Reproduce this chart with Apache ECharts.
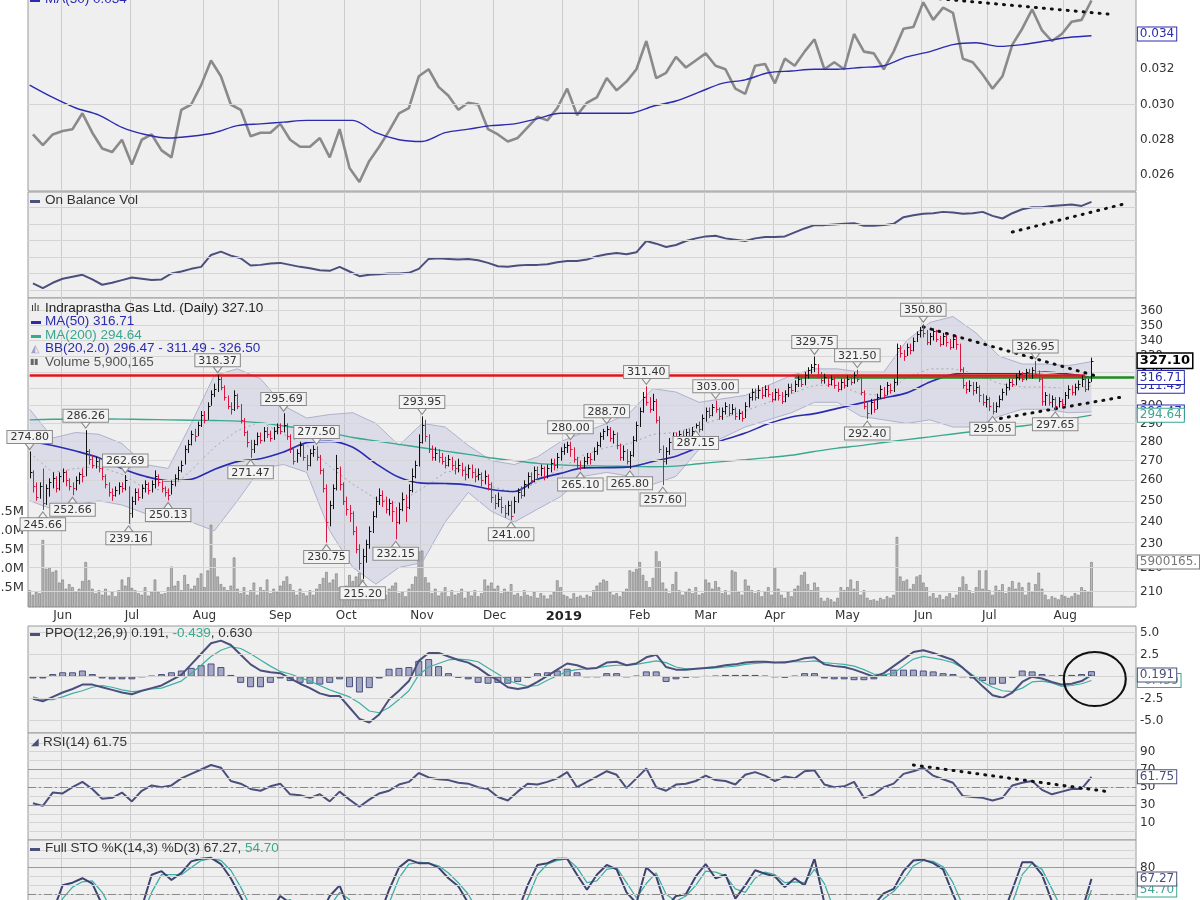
<!DOCTYPE html>
<html>
<head>
<meta charset="utf-8">
<title>Indraprastha Gas Ltd. (Daily)</title>
<script src="https://cdn.jsdelivr.net/npm/echarts@6.0.0/dist/echarts.min.js"></script>
<style>
  html, body { margin: 0; padding: 0; background: #fff; }
  #chart { width: 1200px; height: 900px; }
</style>
</head>
<body>
<div id="chart"></div>
<script>
// ---- daily price bars (trading day 0 = 18 May 2018) ----
var priceHigh = [
  274.8, 265, 259, 259, 266, 258, 261, 264, 262, 264,
  266, 265, 261, 259, 262, 264, 266, 286.26, 276, 273,
  272, 271, 267, 263, 259, 256, 257, 259, 259, 262.69,
  257, 252, 256, 256, 258, 260, 259, 260, 265, 263,
  260, 257, 256, 260, 263, 267, 270, 278, 281, 286,
  287, 291, 297, 297, 302, 309, 313, 318.37, 317, 312,
  306, 302, 309, 307, 301, 293, 286, 281, 281, 285,
  285, 288, 288, 286, 288, 290, 290, 295.69, 290, 284,
  277, 276, 280, 279, 273, 276, 278, 277.5, 273, 266,
  258, 250, 258, 273, 267, 259, 252, 248, 245, 238,
  230, 228, 232, 238, 245, 252, 256, 255, 252, 251,
  250, 247, 249, 254, 253, 258, 266, 270, 284, 293.95,
  292, 284, 278, 277, 276, 274, 272, 273, 272, 270,
  271, 269, 267, 268, 268, 266, 266, 264, 265, 263,
  259, 253, 254, 252, 248, 250, 250, 252, 256, 257,
  260, 264, 264, 267, 267, 268, 267, 268, 271, 271,
  274, 277, 279, 280, 280, 277, 272, 270, 272, 274,
  274, 277, 280, 285, 287, 288.7, 288, 286, 285, 279,
  278, 276, 275, 283, 291, 299, 308, 311.4, 305, 307,
  304, 294, 278, 277, 282, 285, 285, 286, 286, 287,
  287, 288, 290, 291, 295, 299, 299, 301, 303, 299,
  299, 302, 301, 301, 299, 298, 297, 302, 307, 310,
  310, 312, 311, 312, 312, 308, 310, 310, 308, 309,
  313, 313, 315, 318, 318, 320, 323, 325, 329.75, 325,
  320, 319, 318, 318, 317, 314, 316, 316, 318, 318,
  320, 321.5, 317, 309, 302, 304, 304, 307, 312, 311,
  314, 313, 316, 338, 337, 334, 338, 338, 342, 346,
  349, 350.8, 347, 345, 348, 347, 343, 345, 344, 341,
  343, 343, 338, 323, 314, 315, 314, 314, 312, 307,
  306, 305, 302, 302, 306, 310, 313, 316, 316, 319,
  321, 320, 322, 322, 323, 326.95, 321, 317, 308, 307,
  306, 305, 305, 304, 308, 312, 312, 313, 315, 318,
  317, 316, 329
];
var priceLow = [
  261, 254, 250, 251, 245.66, 248, 252, 256, 254, 255,
  259, 257, 255, 252.66, 255, 258, 259, 262, 268, 266,
  266, 264, 260, 256, 252, 250, 252, 253, 254, 255,
  239.16, 242, 248, 250, 251, 254, 253, 254, 256, 257,
  254, 252, 250.13, 253, 257, 260, 264, 268, 274, 278,
  280, 283, 288, 290, 292, 300, 305, 308, 309, 303,
  298, 295, 297, 298, 290, 283, 277, 271.47, 274, 278,
  279, 280, 282, 280, 281, 284, 284, 285, 281, 274,
  268, 269, 272, 270, 265, 267, 272, 270, 263, 254,
  230.75, 238, 246, 255, 255, 248, 243, 240, 234, 226,
  219, 215.2, 222, 228, 235, 242, 248, 247, 244, 243,
  240, 232.15, 239, 245, 240, 246, 254, 261, 267, 279,
  280, 274, 270, 270, 269, 268, 266, 267, 265, 263,
  264, 262, 260, 261, 261, 259, 260, 257, 258, 255,
  249, 246, 247, 244, 242, 243, 241, 244, 249, 251,
  252, 256, 258, 259, 260, 262, 260, 261, 264, 265,
  266, 270, 273, 274, 272, 269, 266, 265.1, 266, 268,
  268, 270, 273, 277, 281, 283, 280, 279, 276, 270,
  270, 268, 265.8, 272, 280, 288, 296, 300, 296, 297,
  290, 274, 257.6, 268, 273, 278, 278, 279, 280, 281,
  281, 282, 287.15, 285, 286, 291, 293, 294, 296, 292,
  292, 295, 294, 295, 292, 292, 291, 293, 299, 303,
  303, 304, 304, 305, 305, 302, 303, 303, 301, 302,
  305, 307, 308, 311, 311, 312, 316, 319, 320, 316,
  313, 313, 311, 312, 310, 308, 309, 310, 311, 312,
  313, 314, 306, 298, 292.4, 295, 296, 298, 304, 304,
  306, 307, 308, 312, 329, 327, 330, 331, 333, 339,
  342, 342, 337, 337, 340, 339, 336, 337, 336, 334,
  335, 334, 320, 310, 307, 308, 306, 307, 302, 300,
  299, 297, 295.05, 296, 299, 303, 306, 309, 311, 312,
  315, 314, 315, 316, 316, 317, 314, 300, 300, 300,
  299, 297.65, 299, 299, 300, 304, 306, 306, 309, 311,
  308, 309, 314
];
var priceClose = [
  264, 257, 252, 257, 249, 256, 259, 261, 256, 262,
  264, 260, 257, 256, 260, 263, 262, 275, 271, 268,
  270, 266, 262, 258, 254, 253, 255, 257, 256, 260,
  244, 250, 254, 252, 256, 258, 255, 258, 262, 259,
  256, 254, 253, 258, 261, 265, 268, 276, 279, 284,
  283, 289, 295, 292, 300, 307, 310, 316, 311, 305,
  300, 298, 306, 300, 292, 285, 280, 276, 279, 283,
  281, 286, 284, 282, 286, 288, 286, 289, 283, 276,
  270, 274, 278, 272, 268, 274, 276, 272, 265, 256,
  240, 248, 256, 266, 258, 250, 246, 244, 236, 228,
  222, 225, 230, 236, 243, 250, 253, 250, 246, 249,
  245, 240, 246, 251, 247, 255, 262, 268, 280, 289,
  283, 276, 272, 274, 272, 270, 268, 271, 268, 266,
  268, 265, 263, 266, 264, 262, 263, 260, 262, 258,
  252, 249, 251, 247, 244, 248, 243, 250, 254, 253,
  258, 262, 260, 265, 263, 266, 262, 266, 269, 268,
  272, 275, 277, 278, 276, 271, 268, 266, 270, 272,
  271, 275, 278, 283, 286, 287, 282, 284, 278, 272,
  275, 270, 273, 281, 289, 297, 305, 302, 298, 303,
  292, 276, 270, 275, 280, 283, 280, 284, 282, 285,
  283, 286, 289, 287, 293, 297, 295, 299, 298, 294,
  297, 300, 296, 298, 294, 296, 293, 300, 305, 308,
  305, 309, 306, 310, 307, 304, 308, 306, 303, 307,
  311, 309, 313, 316, 313, 318, 321, 323, 325, 318,
  315, 317, 313, 316, 312, 310, 314, 312, 316, 314,
  318, 316, 308, 300, 296, 302, 298, 305, 310, 306,
  312, 309, 314, 335, 332, 330, 336, 334, 340, 344,
  347, 345, 339, 343, 346, 341, 338, 343, 339, 336,
  341, 338, 322, 312, 310, 312, 309, 311, 306, 302,
  304, 300, 297, 300, 304, 308, 311, 314, 313, 317,
  319, 316, 320, 318, 321, 319, 316, 303, 306, 302,
  304, 300, 303, 301, 306, 310, 308, 311, 313, 316,
  310, 314, 327.1
];
// daily volume, millions of shares
var volume = [
  2.2, 1.6, 2.0, 1.8, 8.8, 5.0, 5.2, 4.6, 4.8, 3.2,
  3.6, 2.4, 3.0, 2.6, 2.0, 2.4, 3.4, 5.9, 3.5, 2.4,
  1.8, 2.2, 1.6, 2.4, 1.5, 2.0, 1.4, 2.2, 3.6, 2.8,
  3.9, 2.5, 2.2, 1.8, 1.6, 2.6, 1.5, 2.0, 3.6, 2.0,
  1.7, 1.8, 2.6, 5.3, 2.8, 3.4, 2.2, 4.2, 3.0, 2.4,
  2.8, 3.8, 4.4, 2.6, 4.8, 10.8, 6.4, 4.0, 3.0, 2.6,
  2.2, 2.8, 6.5, 2.4, 1.8, 2.6, 1.6, 2.2, 3.2, 1.6,
  2.6, 2.2, 3.6, 1.8, 2.4, 2.0, 2.8, 3.4, 4.0, 3.0,
  2.2, 1.6, 2.4, 1.8, 1.5, 2.2, 1.6, 2.4, 3.0, 3.8,
  4.6, 3.2, 3.6, 4.4, 2.6, 2.2, 2.8, 4.2, 3.4, 4.0,
  4.5, 3.6, 2.4, 1.8, 2.2, 1.4, 2.0, 1.2, 1.6, 2.4,
  2.8, 3.2, 1.8, 2.0, 1.4, 2.4, 3.0, 4.0, 7.3, 7.4,
  3.9, 3.2, 1.8, 2.4, 1.5, 1.9, 2.6, 1.4, 2.2, 1.6,
  1.8, 2.4, 1.2, 2.0, 1.5, 2.2, 1.4, 1.8, 3.6, 2.8,
  3.2, 2.4, 2.8, 1.8, 2.4, 2.0, 3.0, 1.6, 1.8, 1.4,
  2.2, 1.6, 1.4, 2.0, 1.2, 1.8, 1.5, 1.1, 1.6, 2.0,
  3.5, 2.6, 1.6, 1.4, 1.1, 1.8, 1.3, 1.5, 1.2, 1.6,
  1.4, 2.2, 2.8, 3.2, 3.6, 3.4, 2.0, 1.6, 1.8, 1.4,
  2.0, 2.4, 4.8, 4.6, 5.0, 5.9, 4.2, 3.4, 2.6, 3.8,
  7.3, 6.0, 3.2, 2.4, 1.8, 3.0, 4.6, 2.2, 1.6, 2.0,
  2.4, 1.8, 2.6, 1.6, 1.8, 3.6, 3.2, 2.4, 3.4, 2.6,
  1.8, 2.2, 1.6, 4.8, 4.6, 2.0, 1.6, 3.6, 2.8, 2.2,
  1.8, 2.2, 1.4, 2.0, 2.6, 1.6, 5.2, 2.4, 1.6, 1.2,
  2.0, 1.4, 2.4, 2.8, 4.2, 4.6, 3.0, 2.2, 3.2, 2.6,
  1.2, 0.8, 1.2, 1.0, 0.7, 1.2, 2.6, 2.2, 2.6, 3.6,
  2.4, 3.4, 1.6, 2.2, 1.2, 0.9, 1.0, 0.8, 1.2, 1.0,
  1.4, 1.2, 1.6, 9.2, 4.0, 3.4, 3.6, 2.4, 3.0, 4.0,
  4.2, 3.2, 2.6, 1.4, 1.8, 1.2, 1.6, 1.0, 1.4, 1.8,
  1.2, 1.6, 2.6, 4.0, 3.0, 2.2, 1.8, 2.6, 4.8, 2.4,
  4.8, 2.2, 1.6, 2.8, 2.2, 3.0, 1.8, 2.6, 3.4, 2.4,
  3.2, 2.6, 1.6, 3.2, 2.0, 3.0, 4.5, 2.4, 1.6, 1.0,
  1.4, 1.2, 1.0, 1.6, 1.4, 1.2, 1.4, 1.8, 1.6, 2.6,
  2.2, 2.0, 5.900165
];

// ---- indicators read every 3rd trading day, starting at day 1 ----
var ratio = [
  0.0283, 0.0277, 0.0283, 0.0285, 0.0286, 0.0295, 0.0284, 0.0275, 0.0273, 0.0280,
  0.0266, 0.0280, 0.0283, 0.0274, 0.0270, 0.0297, 0.0300, 0.0311, 0.0325, 0.0316,
  0.0300, 0.0297, 0.0282, 0.0284, 0.0284, 0.0289, 0.0280, 0.0276, 0.0276, 0.0281,
  0.0270, 0.0286, 0.0264, 0.0256, 0.0268, 0.0276, 0.0285, 0.0295, 0.0298, 0.0316,
  0.0320, 0.0310, 0.0305, 0.0297, 0.0301, 0.0300, 0.0286, 0.0283, 0.0279, 0.0281,
  0.0287, 0.0293, 0.0291, 0.0298, 0.0309, 0.0294, 0.0301, 0.0304, 0.0315, 0.0308,
  0.0313, 0.0320, 0.0336, 0.0315, 0.0318, 0.0327, 0.0321, 0.0325, 0.0329, 0.0322,
  0.0320, 0.0309, 0.0306, 0.0322, 0.0323, 0.0312, 0.0326, 0.0322, 0.0330, 0.0337,
  0.0320, 0.0324, 0.0320, 0.0340, 0.0330, 0.0329, 0.0320, 0.0330, 0.0343, 0.0344,
  0.0358, 0.0348, 0.0355, 0.0352, 0.0326, 0.0324, 0.0317, 0.0309, 0.0316, 0.0334,
  0.0343, 0.0354, 0.0342, 0.0336, 0.0340, 0.0347, 0.0348, 0.0359
];
var obv = [
  2, -5, 3, 9, 12, 15, 8, 0, 3, 7,
  11, 9, 7, 8, 17, 20, 24, 27, 45, 50,
  44, 40, 29, 30, 32, 33, 30, 27, 25, 22,
  21, 27, 20, 13, 15, 16, 17, 17, 18, 24,
  39, 40, 39, 38, 39, 37, 33, 28, 27, 29,
  30, 30, 31, 34, 36, 36, 38, 43, 46, 48,
  46, 49, 66, 62, 57, 60, 66, 70, 73, 74,
  70, 68, 66, 70, 72, 72, 73, 79, 85, 90,
  90, 91, 92, 93, 89, 89, 90, 92, 102, 105,
  107, 108, 110, 109, 107, 108, 110, 104, 100, 108,
  114, 117, 117, 119, 120, 121, 119, 125
];
var ppo = [
  -2.5, -2.8, -2.3, -1.8, -1.4, -0.9, -0.9, -1.2, -1.5, -1.8,
  -2.0, -1.6, -1.3, -1.0, -0.4, 0.2, 1.4, 2.6, 3.8, 4.1,
  3.6, 2.5, 1.4, 0.7, 0.5, 0.4, -0.2, -0.8, -1.3, -1.9,
  -2.2, -2.2, -3.5, -4.8, -5.2, -4.3, -2.6, -1.6, -0.5, 1.8,
  2.7, 2.7, 2.3, 1.9, 1.6, 1.0, 0.2, -0.4, -1.2, -1.4,
  -1.2, -0.6, 0.1, 0.8, 1.5, 1.3, 0.9, 1.0, 1.6, 1.7,
  1.3, 1.5, 2.2, 2.5, 1.1, 0.8, 0.8, 0.9, 1.0, 1.1,
  1.3, 1.4, 1.6, 1.7, 1.7, 1.6, 1.6, 1.8, 2.1, 2.2,
  1.4, 1.2, 1.1, 0.8, 0.4, 0.0, 0.4, 1.2, 2.0, 2.8,
  3.0, 2.7, 2.3, 1.9, 1.0, 0.0, -1.1, -2.1, -2.4, -1.8,
  -0.6, 0.0, -0.2, -0.6, -0.9, -0.8, -0.5, 0.191
];
var ppoSignal = [
  -2.3, -2.6, -2.6, -2.3, -1.9, -1.6, -1.2, -1.0, -1.2, -1.5,
  -1.7, -1.6, -1.4, -1.3, -0.9, -0.5, 0.4, 1.3, 2.3, 3.0,
  3.4, 3.2, 2.6, 1.9, 1.2, 0.6, 0.3, -0.1, -0.5, -1.0,
  -1.5, -1.9, -2.3, -3.0, -3.9, -4.1, -3.5, -2.6, -1.6, 0.2,
  1.1, 1.5, 1.9, 2.0, 1.9, 1.7, 1.0, 0.3, -0.4, -0.8,
  -1.1, -1.0, -0.4, 0.1, 0.6, 0.8, 0.9, 1.0, 1.2, 1.3,
  1.3, 1.4, 1.6, 1.8, 1.6, 1.1, 0.9, 0.9, 0.95, 1.0,
  1.1, 1.2, 1.4, 1.5, 1.6, 1.6, 1.7, 1.7, 1.7, 1.8,
  1.6, 1.5, 1.4, 1.2, 0.8, 0.3, 0.2, 0.4, 1.2, 2.0,
  2.3, 2.1, 1.9, 1.6, 1.0, 0.2, -0.6, -1.2, -1.6, -1.7,
  -1.3, -0.6, -0.5, -0.7, -1.1, -1.0, -0.8, -0.439
];
var ppoHist = [
  -0.2, -0.2, 0.3, 0.5, 0.5, 0.7, 0.3, -0.2, -0.3, -0.3,
  -0.3, 0.0, 0.1, 0.3, 0.5, 0.7, 1.0, 1.3, 1.5, 1.1,
  0.2, -0.7, -1.2, -1.2, -0.7, -0.2, -0.5, -0.7, -0.8, -0.9,
  -0.7, -0.3, -1.2, -1.8, -1.3, -0.2, 0.9, 1.0, 1.1, 1.8,
  2.0, 1.2, 0.4, -0.1, -0.3, -0.7, -0.8, -0.7, -0.8, -0.6,
  -0.1, 0.4, 0.5, 0.7, 0.9, 0.5, 0.0, 0.0, 0.4, 0.4,
  0.0, 0.1, 0.6, 0.6, -0.6, -0.3, -0.1, 0.0, 0.05, 0.1,
  0.2, 0.2, 0.2, 0.2, 0.1, 0.0, -0.1, 0.1, 0.4, 0.4,
  -0.2, -0.3, -0.3, -0.4, -0.4, -0.3, 0.2, 0.8, 0.8, 0.8,
  0.7, 0.6, 0.4, 0.3, 0.0, -0.2, -0.5, -0.9, -0.8, -0.1,
  0.7, 0.6, 0.3, 0.1, 0.2, 0.2, 0.3, 0.63
];
var rsi = [
  32, 29, 44, 43, 50, 56, 48, 37, 38, 44,
  34, 46, 52, 50, 52, 60, 65, 70, 75, 72,
  57, 54, 48, 46, 51, 54, 42, 41, 38, 42,
  34, 45, 36, 28, 36, 43, 46, 53, 56, 66,
  61, 59, 58, 55, 54, 50, 48, 39, 35, 45,
  54, 53, 56, 60, 67, 50, 56, 62, 68, 64,
  49, 60, 71, 50, 46, 53, 54, 57, 63, 58,
  57, 53, 64, 67, 63, 57, 62, 60, 68, 69,
  53, 50, 51, 56, 38, 42, 50, 54, 65, 68,
  72, 63, 59, 55, 40, 39, 38, 35, 38, 52,
  55, 57, 47, 42, 45, 48, 48, 61.75
];
var stoK = [
  20, 15, 30, 60, 63, 68, 62, 38, 22, 18,
  15, 35, 72, 76, 66, 74, 87, 90, 91, 84,
  68, 47, 25, 18, 30, 48, 40, 22, 15, 25,
  48, 60, 30, 12, 8, 25, 55, 80, 89, 85,
  85, 80, 68, 59, 40, 22, 15, 12, 18, 30,
  60, 83, 85, 90, 90, 72, 55, 72, 83, 78,
  52, 40, 80, 70, 35, 48, 50, 70, 84, 68,
  72, 45, 60, 77, 73, 70, 58, 68, 60, 90,
  40, 22, 15, 18, 25, 38, 51, 56, 76, 88,
  89, 85, 78, 50, 25, 15, 10, 12, 25, 55,
  86, 86, 72, 42, 25, 20, 30, 67.27
];
var stoD = [
  22, 18, 22, 45, 58, 64, 65, 52, 32, 22,
  17, 25, 52, 72, 72, 72, 80, 88, 90, 88,
  77, 58, 36, 22, 25, 40, 44, 32, 20, 20,
  36, 52, 44, 22, 11, 15, 40, 68, 84, 86,
  85, 82, 74, 63, 50, 30, 19, 14, 15, 24,
  45, 72, 84, 88, 90, 80, 63, 65, 78, 80,
  63, 46, 62, 74, 50, 42, 48, 60, 76, 75,
  71, 56, 52, 68, 75, 72, 63, 64, 63, 78,
  62, 32, 19, 16, 21, 31, 45, 53, 66, 82,
  88, 87, 81, 63, 37, 20, 12, 11, 18, 40,
  72, 85, 78, 56, 33, 22, 25, 54.7
];

// ---- smooth lines read every 7th trading day, starting at day 0 ----
var ratioMA = [
  0.0311, 0.0304, 0.0298, 0.0294, 0.0287, 0.0283, 0.0281, 0.0282, 0.0284, 0.0288,
  0.0289, 0.0290, 0.0291, 0.0291, 0.0291, 0.0284, 0.0280, 0.0279, 0.0284, 0.0286,
  0.0288, 0.0289, 0.0292, 0.0295, 0.0295, 0.0295, 0.0295, 0.0299, 0.0302, 0.0307,
  0.0312, 0.0314, 0.0318, 0.0319, 0.0320, 0.0320, 0.0321, 0.0322, 0.0327, 0.0330,
  0.0334, 0.0335, 0.0333, 0.0334, 0.0336, 0.0338, 0.0339
];
var ma50 = [
  280, 278, 275, 271.5, 266, 262, 259.8, 260.5, 265.5, 269.5,
  271, 274.5, 279.5, 280.2, 277, 268.5, 261.5, 258.6, 258.4, 257.7,
  255.5, 254.5, 260.5, 263.5, 266.3, 266.4, 266.8, 269.6, 272.3, 277,
  280.7, 284.7, 289.8, 293.6, 295.5, 298.5, 301.5, 304.5, 307.5, 314,
  318.6, 319.4, 319.4, 319.3, 320, 318.8, 316.71
];
var ma200 = [
  292, 292.3, 292.5, 292.5, 292.4, 292.2, 292, 291.8, 291.6, 291.3,
  290.3, 288.6, 286.8, 284.8, 282.3, 280.4, 278.6, 276.8, 275, 273.3,
  271.4, 270, 268.6, 267.8, 267.4, 267.2, 267, 266.9, 267.2, 268.4,
  269.5, 270.5, 271.6, 272.8, 274.8, 276.6, 277.9, 279.6, 281.1, 282.6,
  284.2, 285.7, 287.2, 288.6, 290.3, 292.4, 294.64
];
var bbUpper = [
  298, 282, 285, 284, 279, 268, 266, 290, 318, 322,
  316, 300, 293, 295, 296, 290, 278, 290, 288, 278,
  270, 268, 272, 280, 285, 290, 296, 310, 308, 302,
  304, 306, 312, 318, 322, 322, 320, 320, 340, 352,
  356, 345, 330, 325, 325, 324, 326.5
];
var bbMiddle = [
  274, 264, 266, 267, 263, 256, 255, 265, 277, 286,
  291, 284, 278, 267, 258, 251, 249, 256, 264, 266,
  257, 254, 259, 266, 273, 277, 279, 284, 285, 289,
  293, 297, 302, 307, 312, 312, 307, 306, 317, 322,
  322, 319, 313, 311, 311, 310, 311.49
];
var bbLower = [
  250, 246, 248, 250, 248, 244, 245, 240, 236, 250,
  266, 268, 264, 236, 220, 213, 220, 222, 240, 254,
  245, 240, 246, 252, 262, 264, 262, 258, 262, 276,
  282, 288, 292, 296, 302, 302, 294, 292, 290, 292,
  288, 288, 294, 298, 298, 296, 296.47
];

// labelled highs and lows: [trading day, price, +1 above / -1 below]
var peaks = [
  [0, 274.80, 1], [17, 286.26, 1], [29, 262.69, 1], [13, 252.66, -1], [4, 245.66, -1],
  [30, 239.16, -1], [42, 250.13, -1], [57, 318.37, 1], [77, 295.69, 1], [87, 277.50, 1],
  [67, 271.47, -1], [90, 230.75, -1], [101, 215.20, -1], [111, 232.15, -1], [119, 293.95, 1],
  [146, 241.00, -1], [164, 280.00, 1], [167, 265.10, -1], [175, 288.70, 1], [182, 265.80, -1],
  [187, 311.40, 1], [192, 257.60, -1], [208, 303.00, 1], [202, 287.15, -1], [238, 329.75, 1],
  [251, 321.50, 1], [254, 292.40, -1], [271, 350.80, 1], [292, 295.05, -1], [311, 297.65, -1],
  [305, 326.95, 1]
];

var ratioTicks = [0.026, 0.028, 0.030, 0.032, 0.034];
var obvTicks = [-8, 17, 42, 67, 92, 117];
var priceTicks = [210, 220, 230, 240, 250, 260, 270, 280, 290, 300, 310, 320, 330, 340, 350, 360];
var volumeTicks = [2.5, 5, 7.5, 10, 12.5];
var ppoTicks = [-5, -2.5, 0, 2.5, 5];
var tenTicks = [0, 10, 20, 30, 40, 50, 60, 70, 80, 90, 100];
var rsiLabels = [10, 30, 50, 70, 90];
var stoLabels = [20, 50, 80];
var monthNames = ['Jan', 'Feb', 'Mar', 'Apr', 'May', 'Jun', 'Jul', 'Aug', 'Sep', 'Oct', 'Nov', 'Dec'];

// trading-day axis: weekdays from 18 May 2018, with room after the last bar
var dates = [];
for (var t = Date.UTC(2018, 4, 18); dates.length < 336; t += 86400000) {
    var wd = new Date(t).getUTCDay();
    if (wd !== 0 && wd !== 6) {
        dates.push(new Date(t).toISOString().slice(0, 10));
    }
}
var monthStart = dates.map(function (d, i) {
    return i > 0 && d.slice(5, 7) !== dates[i - 1].slice(5, 7);
});
var lastSlot = dates.length - 1;

var axisFont = '"DejaVu Sans", Verdana, sans-serif';
var legendFont = '"Liberation Sans", Arial, sans-serif';
var navy = '#2b2bb0', teal = '#3aa88e', slate = '#4a4f7c';
var dotStyle = { color: '#111', width: 3, type: [1, 7], cap: 'round' };

function sampled(values, step, offset) {
    return values.map(function (v, k) { return [offset + k * step, v]; });
}

function line(xi, yi, data, color, width, extra) {
    var s = {
        type: 'line', xAxisIndex: xi, yAxisIndex: yi, data: data, symbol: 'none',
        silent: true, lineStyle: { color: color, width: width }, z: 4
    };
    for (var k in extra) { s[k] = extra[k]; }
    return s;
}

function segment(a, b, style) {
    return [{ coord: a, lineStyle: style }, { coord: b }];
}

function levels(values, color, type) {
    return values.map(function (v) {
        return { yAxis: v, lineStyle: { color: color, type: type, width: 1 } };
    });
}

// horizontal grid lines of a panel, drawn under everything else
function gridLines(xi, yi, values) {
    return {
        type: 'line', xAxisIndex: xi, yAxisIndex: yi, data: [], z: 1,
        markLine: {
            silent: true, symbol: ['none', 'none'], label: { show: false },
            lineStyle: { color: '#d4d4d4', width: 1, type: 'solid' },
            data: values.map(function (v) { return { yAxis: v }; })
        }
    };
}

// boxed value tags on the right axis: [value, text, colour, bold]
function tags(xi, yi, list) {
    return {
        type: 'line', xAxisIndex: xi, yAxisIndex: yi, data: [], z: 20,
        markPoint: {
            silent: true, symbol: 'rect', symbolSize: 1,
            itemStyle: { color: 'rgba(0,0,0,0)' },
            data: list.map(function (tg) {
                return {
                    coord: [lastSlot, tg[0]], name: tg[1],
                    label: {
                        show: true, position: 'right', distance: 3, formatter: '{b}',
                        color: tg[3] ? '#000' : tg[2], backgroundColor: '#fff',
                        borderColor: tg[2], borderWidth: tg[3] ? 1.5 : 1,
                        padding: [1, 2, 0, 2], fontFamily: axisFont,
                        fontSize: tg[3] ? 13 : 12, fontWeight: tg[3] ? 'bold' : 'normal'
                    }
                };
            })
        }
    };
}

function valueAxis(gi, min, max, labels, fmt) {
    return {
        type: 'value', gridIndex: gi, position: 'right', min: min, max: max,
        axisLine: { show: false },
        axisTick: { show: false },
        splitLine: { show: false },
        axisLabel: {
            show: labels.length > 0, customValues: labels, formatter: fmt,
            color: '#333', fontSize: 12, fontFamily: axisFont, margin: 4
        }
    };
}

var panels = [
    { top: -12, height: 203 },
    { top: 192, height: 106 },
    { top: 298, height: 309 },
    { top: 626, height: 107 },
    { top: 733, height: 107 },
    { top: 840, height: 107 }
];

var chart = echarts.init(document.getElementById('chart'));

var option = {
    animation: false,
    backgroundColor: '#ffffff',
    grid: panels.map(function (p) {
        return {
            left: 28, width: 1108, top: p.top, height: p.height, show: true,
            backgroundColor: '#efefef', borderColor: '#9a9a9a', borderWidth: 1,
            containLabel: false, outerBoundsMode: 'none'
        };
    }),
    xAxis: panels.map(function (p, i) {
        return {
            type: 'category', gridIndex: i, data: dates, boundaryGap: true,
            axisLine: { show: false }, axisTick: { show: false },
            splitLine: {
                show: true, interval: function (idx) { return monthStart[idx]; },
                lineStyle: { color: '#cdcdcd' }
            },
            axisLabel: i !== 2 ? { show: false } : {
                show: true, margin: 3, color: '#333', fontSize: 12, fontFamily: axisFont,
                interval: function (idx) { return monthStart[idx]; },
                formatter: function (value) {
                    var m = +value.slice(5, 7);
                    return m === 1 ? '{y|' + value.slice(0, 4) + '}' : monthNames[m - 1];
                },
                rich: { y: { fontWeight: 'bold', fontSize: 13, color: '#222', fontFamily: axisFont } }
            }
        };
    }),
    yAxis: [
        valueAxis(0, 0.025092, 0.03661, ratioTicks, function (v) { return v.toFixed(3); }),
        valueAxis(1, -20, 140, [], null),
        {
            type: 'log', logBase: 10, gridIndex: 2, position: 'right', min: 203.9, max: 368.9,
            axisLine: { show: false }, axisTick: { show: false },
            axisLabel: { show: false }, splitLine: { show: false }
        },
        {
            type: 'value', gridIndex: 2, position: 'left', min: 0, max: 40.55,
            axisLine: { show: false }, axisTick: { show: false },
            splitLine: { show: false },
            axisLabel: {
                customValues: volumeTicks, margin: 4, color: '#333', fontSize: 13, fontFamily: axisFont,
                formatter: function (v) { return v.toFixed(1) + 'M'; }
            }
        },
        valueAxis(3, -6.4, 5.76, ppoTicks, function (v) { return v.toFixed(1); }),
        valueAxis(4, -9.5, 111.1, rsiLabels, null),
        valueAxis(5, -9.5, 111.1, stoLabels, null)
    ],
    graphic: [
        { t: '▬', x: 30, y: -1, c: navy, s: 10 },
        { t: 'MA(50) 0.034', x: 45, y: -1, c: navy },
        { t: '▬', x: 30, y: 200, c: slate, s: 10 },
        { t: 'On Balance Vol', x: 45, y: 200, c: '#333' },
        { t: 'ılı', x: 31, y: 308, c: '#333', s: 11 },
        { t: 'Indraprastha Gas Ltd. (Daily) 327.10', x: 45, y: 308, c: '#222' },
        { t: '▬', x: 31, y: 321.5, c: navy, s: 10 },
        { t: 'MA(50) 316.71', x: 45, y: 321.5, c: navy },
        { t: '▬', x: 31, y: 335, c: teal, s: 10 },
        { t: 'MA(200) 294.64', x: 45, y: 335, c: teal },
        { t: '◭', x: 31, y: 348.5, c: '#9ea3cc', s: 11 },
        { t: 'BB(20,2.0) 296.47 - 311.49 - 326.50', x: 45, y: 348.5, c: navy },
        { t: '▮▮', x: 30, y: 362, c: '#666', s: 8 },
        { t: 'Volume 5,900,165', x: 45, y: 362, c: '#555' },
        { t: '▬', x: 30, y: 633, c: slate, s: 10 },
        { t: 'PPO(12,26,9) 0.191, {g|-0.439}, 0.630', x: 45, y: 633, c: '#333' },
        { t: '◢', x: 31, y: 742, c: slate, s: 10 },
        { t: 'RSI(14) 61.75', x: 43, y: 742, c: '#333' },
        { t: '▬', x: 30, y: 848, c: slate, s: 10 },
        { t: 'Full STO %K(14,3) %D(3) 67.27, {g|54.70}', x: 45, y: 848, c: '#333' }
    ].map(function (g) {
        return {
            type: 'text', x: g.x, y: g.y, silent: true, z: 50,
            style: {
                text: g.t, fill: g.c, verticalAlign: 'middle',
                font: (g.s || 13.5) + 'px ' + legendFont,
                rich: { g: { fill: teal, font: '13.5px ' + legendFont } }
            }
        };
    }),
    series: [
        // relative strength panel
        gridLines(0, 0, ratioTicks),
        line(0, 0, sampled(ratio, 3, 1), '#8a8a8a', 2.6, {
            markLine: {
                silent: true, symbol: ['none', 'none'], label: { show: false },
                data: [segment([276, 0.0360], [327, 0.03513], dotStyle)]
            }
        }),
        line(0, 0, sampled(ratioMA, 7, 0), navy, 1.4, { smooth: 0.3 }),
        tags(0, 0, [[0.034, '0.034', navy]]),

        // on balance volume
        gridLines(1, 1, obvTicks),
        line(1, 1, sampled(obv, 3, 1), slate, 2, {
            markLine: {
                silent: true, symbol: ['none', 'none'], label: { show: false },
                data: [segment([298, 79.6], [333, 123.4], dotStyle)]
            }
        }),

        // price panel: horizontal price grid with its labels
        {
            type: 'line', xAxisIndex: 2, yAxisIndex: 2, data: [], z: 1,
            markLine: {
                silent: true, symbol: ['none', 'none'],
                lineStyle: { color: '#d6d6d6', width: 1, type: 'solid' },
                label: {
                    show: true, position: 'end', distance: 4, color: '#333',
                    fontSize: 12, fontFamily: axisFont,
                    formatter: function (p) { return p.value; }
                },
                data: priceTicks.map(function (v) { return { yAxis: v }; })
            }
        },
        {
            type: 'custom', xAxisIndex: 2, yAxisIndex: 2, silent: true, z: 2,
            data: [[0, 300]],
            renderItem: function (params, api) {
                var pts = [];
                bbUpper.forEach(function (v, j) { pts.push(api.coord([j * 7, v])); });
                for (var j = bbLower.length - 1; j >= 0; j--) {
                    pts.push(api.coord([j * 7, bbLower[j]]));
                }
                return { type: 'polygon', shape: { points: pts }, style: { fill: 'rgba(178,182,220,0.33)' } };
            }
        },
        {
            type: 'bar', xAxisIndex: 2, yAxisIndex: 3, data: volume, barWidth: 2.6, silent: true, z: 2,
            itemStyle: { color: '#b8b8b8', borderColor: '#777', borderWidth: 0.6 }
        },
        line(2, 2, sampled(bbUpper, 7, 0), '#aeb2cc', 1, { z: 3 }),
        line(2, 2, sampled(bbLower, 7, 0), '#aeb2cc', 1, { z: 3 }),
        line(2, 2, sampled(bbMiddle, 7, 0), '#a8a8a8', 1, { z: 3, lineStyle: { color: '#a8a8a8', width: 1, type: [2, 3] } }),
        line(2, 2, sampled(ma200, 7, 0), teal, 1.4, { smooth: 0.3 }),
        line(2, 2, sampled(ma50, 7, 0), navy, 1.6, { smooth: 0.3 }),
        {
            type: 'custom', xAxisIndex: 2, yAxisIndex: 2, silent: true, z: 5,
            data: priceClose.map(function (c, i) { return [i, priceHigh[i], priceLow[i], c]; }),
            encode: { x: 0, y: [1, 2, 3] },
            renderItem: function (params, api) {
                var i = api.value(0);
                var hi = api.coord([i, api.value(1)]);
                var lo = api.coord([i, api.value(2)]);
                var cl = api.coord([i, api.value(3)]);
                var prev = i > 0 ? priceClose[i - 1] : api.value(3);
                var color = api.value(3) < prev ? '#d9163f' : '#111';
                var x = Math.round(hi[0]) + 0.5;
                var yc = Math.round(cl[1]) + 0.5;
                return {
                    type: 'group',
                    children: [
                        { type: 'line', shape: { x1: x, y1: hi[1], x2: x, y2: lo[1] }, style: { stroke: color, lineWidth: 1 } },
                        { type: 'line', shape: { x1: x, y1: yc, x2: x + 2, y2: yc }, style: { stroke: color, lineWidth: 1 } }
                    ]
                };
            }
        },
        {
            type: 'line', xAxisIndex: 2, yAxisIndex: 2, data: [], z: 6,
            markLine: {
                silent: true, symbol: ['none', 'none'], label: { show: false },
                data: [
                    segment([232, 316.71], [lastSlot, 316.71], { color: '#1e8c1e', width: 2.5, type: 'solid' }),
                    segment([0, 318.37], [320, 318.37], { color: '#e3141c', width: 2.5, type: 'solid' }),
                    segment([271, 349.0], [324, 317.3], dotStyle),
                    segment([292, 292.0], [331, 305.0], dotStyle)
                ]
            },
            markPoint: {
                silent: true, symbol: 'triangle', symbolSize: [9, 6],
                itemStyle: { color: '#f3f3f3', borderColor: '#8a8a8a', borderWidth: 1 },
                data: peaks.map(function (p) {
                    var up = p[2] > 0;
                    return {
                        coord: [p[0], p[1]], name: p[1].toFixed(2),
                        symbolRotate: up ? 180 : 0, symbolOffset: [0, up ? -5 : 5],
                        label: {
                            show: true, position: up ? 'top' : 'bottom', distance: 0, formatter: '{b}',
                            color: '#333', fontSize: 11, fontFamily: axisFont,
                            backgroundColor: '#f3f3f3', borderColor: '#8a8a8a', borderWidth: 1,
                            padding: [1, 3, 0, 3]
                        }
                    };
                })
            }
        },
        tags(2, 3, [[5.900165, '5900165.', '#777']]),
        tags(2, 2, [
            [296.47, '296.47', navy], [294.64, '294.64', teal], [311.49, '311.49', navy],
            [316.71, '316.71', navy], [327.10, '327.10', '#000', true]
        ]),

        // PPO
        gridLines(3, 4, ppoTicks),
        {
            type: 'bar', xAxisIndex: 3, yAxisIndex: 4, data: sampled(ppoHist, 3, 1), barWidth: 7,
            silent: true, z: 3, itemStyle: { color: '#a4a8c4', borderColor: '#4a4f7c', borderWidth: 1 }
        },
        line(3, 4, sampled(ppoSignal, 3, 1), '#3fb0a5', 1.2),
        line(3, 4, sampled(ppo, 3, 1), slate, 2, {
            markPoint: {
                silent: true,
                data: [{
                    coord: [323, -0.26], symbol: 'circle', symbolSize: [62, 54],
                    itemStyle: { color: 'rgba(0,0,0,0)', borderColor: '#111', borderWidth: 2 },
                    label: { show: false }
                }]
            }
        }),
        tags(3, 4, [[-0.439, '-0.439', teal], [0.191, '0.191', slate]]),

        // RSI
        gridLines(4, 5, tenTicks),
        line(4, 5, sampled(rsi, 3, 1), slate, 2, {
            markLine: {
                silent: true, symbol: ['none', 'none'], label: { show: false },
                data: levels([70, 30], '#9a9a9a', 'solid')
                    .concat(levels([50], '#8a8a8a', [8, 3, 2, 3]))
                    .concat([segment([268, 75], [327, 45], dotStyle)])
            }
        }),
        tags(4, 5, [[61.75, '61.75', slate]]),

        // Full stochastics
        gridLines(5, 6, tenTicks),
        line(5, 6, sampled(stoD, 3, 1), '#3fb0a5', 1.3, {
            markLine: {
                silent: true, symbol: ['none', 'none'], label: { show: false },
                data: levels([80, 20], '#9a9a9a', 'solid').concat(levels([50], '#8a8a8a', [8, 3, 2, 3]))
            }
        }),
        line(5, 6, sampled(stoK, 3, 1), '#3d4270', 2),
        tags(5, 6, [[54.70, '54.70', teal], [67.27, '67.27', slate]])
    ]
};

chart.setOption(option);
window.addEventListener('resize', function () {
    chart.resize();
});
</script>
</body>
</html>
